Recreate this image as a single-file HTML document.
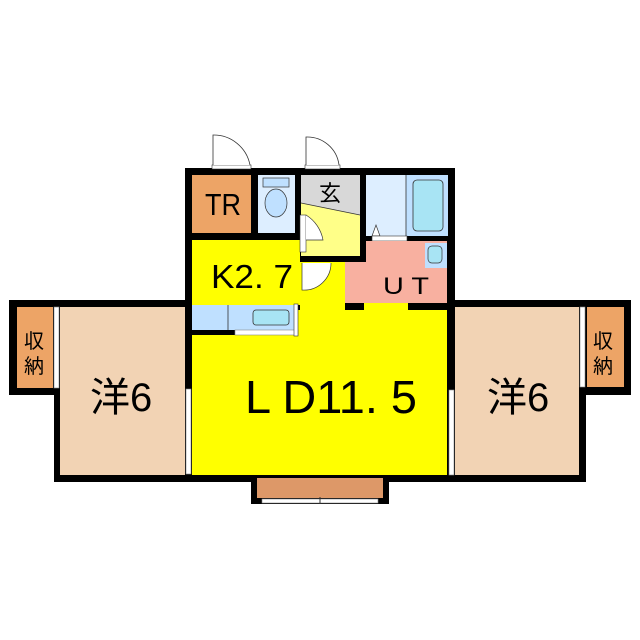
<!DOCTYPE html>
<html><head><meta charset="utf-8"><style>
html,body{margin:0;padding:0;background:#fff;}
svg{display:block;}
text{font-family:"Liberation Sans","Noto Sans CJK JP",sans-serif;fill:#000;}
</style></head><body>
<svg width="640" height="640" viewBox="0 0 640 640" xmlns="http://www.w3.org/2000/svg">
<rect x="185" y="168" width="270" height="314" fill="#000"/>
<rect x="54" y="300" width="138" height="182" fill="#000"/>
<rect x="9" y="300" width="55" height="95" fill="#000"/>
<rect x="448" y="300" width="138" height="182" fill="#000"/>
<rect x="579" y="300" width="52" height="95" fill="#000"/>
<rect x="251" y="475" width="138" height="29" fill="#000"/>

<rect x="60" y="307" width="125" height="168" fill="#f2d3b4"/>
<rect x="17" y="307" width="36" height="81" fill="#eda466"/>
<rect x="54" y="307" width="5" height="81" fill="#fff" stroke="#888" stroke-width="0.6"/>
<rect x="186" y="389" width="5" height="85" fill="#fff" stroke="#888" stroke-width="0.6"/>
<rect x="455" y="307" width="124" height="168" fill="#f2d3b4"/>
<rect x="587" y="307" width="37" height="80" fill="#eda466"/>
<rect x="580" y="307" width="5" height="80" fill="#fff" stroke="#888" stroke-width="0.6"/>
<rect x="449" y="390" width="5" height="85" fill="#fff" stroke="#888" stroke-width="0.6"/>

<rect x="192" y="335" width="255" height="140" fill="#ffff00"/>
<rect x="298" y="310" width="149" height="30" fill="#ffff00"/>
<rect x="192" y="240" width="108" height="65" fill="#ffff00"/>
<rect x="300" y="262" width="45" height="50" fill="#ffff00"/>
<rect x="192" y="305" width="106" height="25" fill="#bfe0ff"/>
<line x1="228" y1="305" x2="228" y2="330" stroke="#333" stroke-width="0.8"/>
<rect x="253" y="310" width="36" height="15" rx="3" fill="#a8e4f4" stroke="#333" stroke-width="0.8"/>
<rect x="235" y="330" width="63" height="5" fill="#fff" stroke="#888" stroke-width="0.6"/>
<rect x="294" y="304" width="4" height="32" fill="#fff" stroke="#333" stroke-width="0.6"/>
<rect x="257" y="478" width="126" height="20" fill="#dd9868"/>
<rect x="262" y="499" width="116" height="4" fill="#fff" stroke="#888" stroke-width="0.6"/>
<line x1="320" y1="497" x2="320" y2="504" stroke="#333"/>

<rect x="192" y="175" width="59" height="58" fill="#eda466"/>
<rect x="258" y="175" width="37" height="58" fill="#ddeeff"/>
<rect x="263" y="178" width="26" height="9" fill="#bfe0ff" stroke="#333" stroke-width="0.7"/>
<ellipse cx="276" cy="203" rx="11" ry="14" fill="#bfe0ff" stroke="#333" stroke-width="0.7"/>
<rect x="301" y="175" width="59" height="81" fill="#ffff88"/>
<polygon points="301,175 360,175 360,215 301,203" fill="#d8d8d8"/>
<line x1="301" y1="203" x2="360" y2="215" stroke="#333" stroke-width="0.8"/>
<rect x="300" y="215" width="6" height="37" fill="#fff" stroke="#333" stroke-width="0.6"/>
<path d="M306,215 A37,37 0 0 1 323,240 L306,240" fill="#fff" stroke="#333" stroke-width="0.7"/>
<rect x="366" y="175" width="82" height="61" fill="#ddeeff"/>
<rect x="406" y="175" width="42" height="61" fill="#bfe0ff"/>
<line x1="406" y1="175" x2="406" y2="236" stroke="#333" stroke-width="0.8"/>
<rect x="413" y="180" width="30" height="51" rx="4" fill="#a8e4f4" stroke="#333" stroke-width="0.8"/>
<polygon points="372,236 376,225 380,236" fill="#fff" stroke="#333" stroke-width="0.7"/>
<rect x="372" y="236" width="35" height="5" fill="#fff" stroke="#333" stroke-width="0.6"/>
<rect x="366" y="241" width="81" height="62" fill="#f8b0a0"/>
<rect x="345" y="262" width="25" height="41" fill="#f8b0a0"/>
<rect x="425" y="243" width="22" height="25" fill="#bfe0ff"/>
<rect x="428" y="246" width="14" height="17" rx="4" fill="#a8e4f4" stroke="#333" stroke-width="0.7"/>
<rect x="364" y="303" width="44" height="7" fill="#ffff00"/>
<path d="M302,263 L302,290 A27,27 0 0 0 331,263" fill="#fff" stroke="#333" stroke-width="0.7"/>

<rect x="212" y="165" width="39" height="4" fill="#fff" stroke="#333" stroke-width="0.6"/>
<path d="M213,165 L213,135 A37,37 0 0 1 250,165" fill="#fff" stroke="#333" stroke-width="0.8"/>
<rect x="305" y="165" width="35" height="4" fill="#fff" stroke="#333" stroke-width="0.6"/>
<path d="M306,165 L306,137 A32,32 0 0 1 339,165" fill="#fff" stroke="#333" stroke-width="0.8"/>

<text x="205" y="215" font-size="31" textLength="36" lengthAdjust="spacingAndGlyphs">TR</text>
<text x="319" y="201" font-size="22">玄</text>
<text x="211" y="288" font-size="33" textLength="82" lengthAdjust="spacingAndGlyphs">K2. 7</text>
<text x="383" y="294" font-size="24" textLength="46" lengthAdjust="spacingAndGlyphs">U T</text>
<text x="245" y="413" font-size="46" textLength="172" lengthAdjust="spacingAndGlyphs">L D11. 5</text>
<text x="90" y="411" font-size="40">洋6</text>
<text x="487" y="411" font-size="40">洋6</text>
<text x="24" y="348" font-size="20">収</text>
<text x="24" y="373" font-size="20">納</text>
<text x="593" y="348" font-size="20">収</text>
<text x="593" y="373" font-size="20">納</text>
</svg>
</body></html>
